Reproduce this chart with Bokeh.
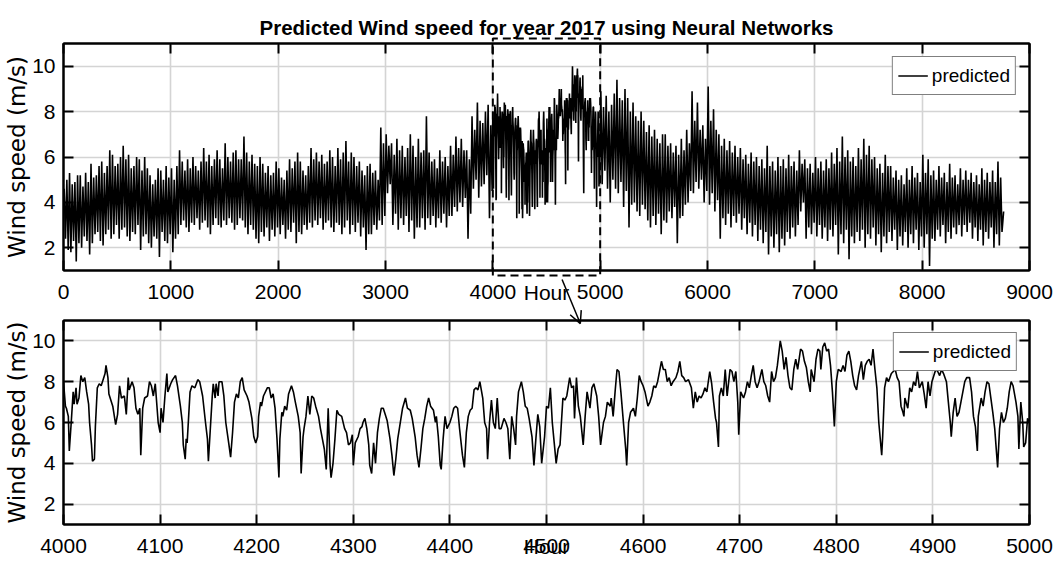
from bokeh.plotting import figure
from bokeh.layouts import column
from bokeh.models import (Range1d, LinearAxis, FixedTicker, Legend, LegendItem,
                          Arrow, OpenHead)
from bokeh.core.properties import value
from bokeh.embed import file_html
from bokeh.resources import INLINE

# ---------------------------------------------------------------- data
TITLE = "Predicted Wind speed for year 2017 using Neural Networks"
X_LABEL = "Hour"
Y_LABEL = "Wind speed (m/s)"
SERIES_NAME = "predicted"

year_ticks = [0, 1000, 2000, 3000, 4000, 5000, 6000, 7000, 8000, 9000]
zoom_ticks = [4000, 4100, 4200, 4300, 4400, 4500, 4600, 4700, 4800, 4900, 5000]
speed_ticks = [2, 4, 6, 8, 10]

# hourly prediction summarised in 25-hour blocks (block maximum, block minimum)
BLOCK = 25
first_hour, first_speed = 0, 4.2
# hours 0 - 4000
early_hi = [4.6, 5.0, 5.3, 4.8, 4.9, 5.2, 5.2, 4.7, 5.3, 4.9,
            5.7, 5.1, 5.2, 5.6, 5.8, 5.3, 5.6, 6.3, 6.1, 5.6,
            5.7, 6.0, 6.5, 5.9, 6.1, 5.5, 5.6, 6.0, 5.9, 5.4,
            6.0, 5.5, 5.2, 4.8, 5.0, 5.5, 5.4, 5.0, 5.6, 5.1,
            5.5, 5.0, 5.6, 6.3, 5.8, 5.4, 5.9, 5.5, 6.0, 5.6,
            5.4, 5.8, 6.4, 5.8, 6.1, 5.6, 5.9, 6.3, 5.9, 5.5,
            6.6, 6.0, 5.8, 6.2, 6.3, 5.9, 5.9, 6.9, 6.2, 5.8,
            6.1, 5.7, 5.6, 6.0, 5.7, 5.3, 5.6, 5.2, 5.3, 5.8,
            5.5, 5.1, 5.0, 5.4, 5.9, 5.5, 5.8, 6.2, 5.8, 5.4,
            5.2, 5.6, 6.4, 5.9, 6.2, 5.8, 6.1, 5.7, 5.8, 6.3,
            6.0, 5.6, 6.4, 5.9, 6.2, 6.7, 5.8, 6.2, 6.0, 5.6,
            5.8, 5.4, 5.2, 5.6, 5.7, 5.3, 5.4, 5.0, 7.3, 6.6,
            7.0, 6.5, 6.6, 6.1, 6.8, 6.3, 6.5, 6.0, 6.4, 7.0,
            6.5, 6.0, 6.8, 6.2, 6.3, 7.8, 6.2, 5.8, 5.9, 5.5,
            6.3, 5.8, 6.0, 5.6, 6.5, 6.1, 6.9, 6.4, 6.8, 6.3,
            6.3, 5.9, 7.8, 7.2, 8.4, 7.6, 7.5, 8.0, 8.3, 7.4]
early_lo = [2.4, 1.9, 1.8, 2.3, 1.4, 2.2, 2.0, 2.5, 2.3, 1.7,
            2.2, 2.6, 2.7, 2.3, 2.1, 2.6, 2.8, 2.4, 2.6, 3.0,
            2.4, 2.8, 2.9, 2.5, 2.3, 2.7, 2.6, 3.0, 1.9, 2.5,
            2.6, 2.2, 2.0, 2.5, 2.4, 1.6, 2.7, 2.3, 2.2, 2.6,
            1.8, 2.4, 2.6, 3.0, 3.2, 2.9, 2.7, 3.1, 3.0, 3.3,
            2.8, 3.1, 3.2, 2.9, 2.6, 3.0, 3.3, 3.0, 2.9, 3.2,
            3.0, 3.3, 3.1, 2.8, 3.0, 3.3, 3.2, 2.9, 2.6, 3.0,
            2.8, 2.4, 2.2, 2.7, 2.5, 2.9, 2.3, 2.8, 2.5, 2.9,
            2.6, 3.0, 2.4, 2.8, 2.7, 3.1, 2.2, 2.7, 2.6, 3.0,
            2.8, 3.1, 2.9, 3.2, 3.0, 3.3, 2.8, 3.1, 3.2, 2.9,
            2.7, 3.1, 3.0, 2.6, 2.9, 3.2, 2.6, 3.0, 2.7, 3.1,
            2.5, 2.9, 1.9, 2.6, 2.6, 3.0, 2.8, 3.2, 3.0, 3.4,
            4.4, 4.8, 3.0, 3.5, 2.8, 3.3, 3.0, 3.4, 2.7, 3.2,
            2.4, 2.9, 2.9, 3.3, 2.8, 3.3, 3.0, 3.4, 2.9, 3.3,
            3.1, 3.5, 2.9, 3.4, 3.4, 3.8, 3.6, 4.0, 3.8, 4.2,
            2.4, 3.5, 4.6, 5.0, 4.2, 4.7, 4.8, 5.2, 3.3, 4.5]
# hours 5000 - 8750
late_hi = [8.9, 8.2, 8.7, 8.0, 8.3, 8.8, 9.4, 8.6, 8.5, 9.0,
           8.6, 8.0, 8.4, 7.8, 7.6, 8.0, 7.6, 7.1, 7.4, 6.9,
           7.2, 6.8, 6.6, 7.0, 7.0, 6.5, 6.6, 6.2, 6.5, 6.1,
           6.8, 6.3, 7.2, 6.6, 8.9, 7.6, 8.4, 7.2, 7.4, 6.8,
           9.1, 7.6, 8.1, 7.2, 7.0, 6.5, 6.8, 6.3, 6.7, 6.2,
           6.5, 6.0, 6.4, 5.9, 6.1, 5.7, 6.2, 5.8, 6.0, 5.6,
           5.9, 5.5, 6.5, 5.6, 5.8, 5.4, 6.0, 5.6, 5.9, 5.5,
           6.1, 5.6, 5.8, 5.4, 6.3, 5.7, 5.9, 5.5, 5.7, 5.3,
           6.0, 5.5, 5.8, 5.4, 5.9, 5.5, 6.2, 5.7, 6.4, 5.8,
           6.9, 6.0, 6.3, 5.8, 6.0, 5.6, 6.4, 5.9, 6.8, 6.1,
           6.5, 5.9, 6.0, 5.5, 5.7, 5.3, 6.1, 5.6, 5.6, 5.1,
           5.4, 5.0, 5.2, 4.8, 5.5, 5.0, 5.6, 5.1, 5.3, 4.9,
           6.1, 5.3, 5.9, 5.2, 5.4, 5.0, 5.6, 5.1, 5.3, 4.9,
           5.7, 5.1, 5.2, 4.8, 5.5, 5.0, 5.4, 5.0, 5.3, 4.9,
           5.2, 4.8, 5.5, 5.0, 5.3, 4.9, 5.4, 4.9, 5.8, 5.1]
late_lo = [4.8, 5.4, 4.6, 4.0, 5.0, 4.6, 4.4, 4.9, 3.8, 4.5,
           2.9, 3.9, 4.0, 3.6, 3.4, 3.9, 3.7, 3.2, 2.9, 3.4,
           3.0, 3.5, 2.6, 3.2, 3.1, 3.6, 3.3, 3.8, 2.2, 3.3,
           3.4, 3.9, 4.0, 4.5, 4.4, 4.9, 4.6, 5.0, 4.0, 4.5,
           3.9, 4.4, 3.6, 4.1, 2.4, 3.3, 3.0, 3.5, 2.9, 3.4,
           3.1, 3.5, 2.8, 3.3, 2.6, 3.1, 2.5, 3.0, 2.3, 2.8,
           2.2, 2.7, 1.7, 2.5, 2.0, 2.6, 1.8, 2.4, 2.1, 2.7,
           2.4, 2.9, 2.5, 3.0, 3.6, 4.0, 2.4, 2.9, 2.6, 3.1,
           2.5, 3.0, 2.4, 2.9, 2.3, 2.8, 2.5, 3.0, 1.7, 2.6,
           2.2, 2.8, 1.5, 2.5, 2.2, 2.7, 2.3, 2.8, 2.0, 2.6,
           2.4, 2.9, 2.1, 2.6, 1.8, 2.5, 2.2, 2.7, 2.3, 2.8,
           1.9, 2.5, 2.1, 2.7, 2.0, 2.6, 2.2, 2.8, 1.9, 2.5,
           2.0, 2.6, 1.2, 2.4, 2.3, 2.8, 2.5, 3.0, 2.2, 2.7,
           2.4, 2.9, 2.6, 3.0, 2.5, 3.0, 2.7, 3.1, 2.4, 2.9,
           2.3, 2.8, 2.1, 2.7, 2.4, 2.9, 2.0, 2.6, 2.1, 2.7]
last_hour, last_speed = 8759, 3.6

# hour-by-hour prediction, hours 4000 - 5000
zoom_hours = [
    4000, 4002, 4003, 4005, 4006, 4008, 4010, 4011, 4013, 4014,
    4016, 4018, 4020, 4022, 4024, 4026, 4027, 4029, 4030, 4032,
    4033, 4035, 4037, 4039, 4041, 4043, 4044, 4046, 4047, 4051,
    4054, 4056, 4058, 4060, 4063, 4065, 4067, 4068, 4071, 4073,
    4075, 4077, 4079, 4080, 4082, 4084, 4087, 4089, 4091, 4093,
    4095, 4098, 4100, 4101, 4103, 4105, 4107, 4108, 4111, 4113,
    4116, 4118, 4121, 4123, 4124, 4126, 4127, 4128, 4131, 4133,
    4136, 4139, 4141, 4144, 4147, 4149, 4150, 4152, 4154, 4155,
    4157, 4158, 4160, 4161, 4164, 4166, 4168, 4171, 4173, 4175,
    4177, 4179, 4181, 4183, 4185, 4187, 4190, 4192, 4195, 4197,
    4199, 4201, 4202, 4204, 4205, 4207, 4211, 4213, 4215, 4217,
    4219, 4221, 4223, 4224, 4226, 4227, 4229, 4231, 4233, 4236,
    4238, 4240, 4243, 4245, 4246, 4248, 4249, 4251, 4253, 4255,
    4257, 4259, 4261, 4264, 4266, 4268, 4270, 4272, 4273, 4274,
    4276, 4277, 4279, 4281, 4283, 4285, 4288, 4291, 4293, 4295,
    4297, 4299, 4300, 4302, 4305, 4307, 4309, 4310, 4312, 4314,
    4316, 4317, 4319, 4321, 4323, 4325, 4327, 4329, 4331, 4333,
    4335, 4338, 4340, 4342, 4344, 4346, 4348, 4351, 4354, 4356,
    4359, 4361, 4364, 4366, 4368, 4370, 4372, 4374, 4376, 4378,
    4380, 4383, 4385, 4386, 4388, 4390, 4391, 4393, 4395, 4397,
    4400, 4402, 4404, 4406, 4408, 4410, 4413, 4415, 4417, 4419,
    4421, 4423, 4425, 4427, 4429, 4431, 4434, 4436, 4438, 4439,
    4441, 4443, 4445, 4447, 4449, 4451, 4453, 4456, 4458, 4460,
    4462, 4464, 4466, 4468, 4469, 4471, 4474, 4476, 4478, 4480,
    4482, 4485, 4487, 4489, 4491, 4493, 4495, 4498, 4500, 4502,
    4504, 4506, 4508, 4510, 4512, 4514, 4517, 4519, 4521, 4524,
    4526, 4528, 4529, 4531, 4533, 4535, 4538, 4540, 4542, 4545,
    4547, 4549, 4552, 4554, 4556, 4559, 4561, 4563, 4566, 4567,
    4569, 4571, 4573, 4575, 4577, 4580, 4582, 4583, 4585, 4587,
    4590, 4592, 4594, 4596, 4598, 4600, 4602, 4605, 4607, 4609,
    4611, 4613, 4615, 4617, 4619, 4621, 4623, 4625, 4627, 4629,
    4631, 4634, 4636, 4638, 4640, 4642, 4644, 4647, 4650, 4652,
    4654, 4656, 4658, 4660, 4662, 4664, 4666, 4669, 4671, 4673,
    4675, 4676, 4678, 4679, 4681, 4683, 4685, 4687, 4690, 4692,
    4694, 4696, 4698, 4699, 4701, 4704, 4706, 4708, 4710, 4712,
    4714, 4716, 4718, 4720, 4723, 4725, 4727, 4729, 4731, 4733,
    4735, 4737, 4739, 4742, 4744, 4746, 4748, 4750, 4752, 4754,
    4756, 4758, 4760, 4763, 4765, 4767, 4769, 4771, 4773, 4774,
    4777, 4779, 4781, 4783, 4784, 4786, 4788, 4790, 4792, 4794,
    4796, 4798, 4800, 4802, 4805, 4807, 4809, 4811, 4813, 4815,
    4817, 4819, 4821, 4823, 4826, 4828, 4830, 4832, 4834, 4836,
    4838, 4840, 4842, 4844, 4847, 4848, 4850, 4852, 4854, 4857,
    4859, 4861, 4863, 4865, 4867, 4869, 4870, 4871, 4874, 4876,
    4878, 4880, 4882, 4884, 4886, 4889, 4891, 4893, 4895, 4897,
    4899, 4901, 4903, 4905, 4907, 4909, 4911, 4914, 4916, 4918,
    4919, 4921, 4923, 4925, 4927, 4929, 4931, 4933, 4935, 4938,
    4940, 4942, 4944, 4946, 4947, 4950, 4952, 4954, 4956, 4958,
    4960, 4962, 4964, 4967, 4969, 4971, 4973, 4975, 4977, 4979,
    4981, 4983, 4986, 4988, 4989, 4991, 4993, 4994, 4996, 4998,
    5000]
zoom_speed = [
    8.0, 6.8, 6.7, 6.3, 4.6, 6.0, 7.5, 6.9, 7.7, 6.9,
    7.2, 8.3, 8.0, 8.2, 7.5, 6.9, 6.0, 4.9, 4.1, 4.2,
    5.8, 7.7, 7.9, 7.8, 8.1, 8.4, 8.8, 8.2, 7.4, 6.8,
    5.9, 6.4, 7.8, 7.2, 7.3, 6.4, 8.2, 7.6, 8.0, 7.7,
    6.7, 6.4, 6.7, 4.4, 6.7, 7.2, 7.3, 8.0, 7.8, 7.3,
    7.9, 6.0, 5.5, 6.7, 6.0, 7.3, 8.4, 7.5, 7.9, 8.1,
    8.3, 7.8, 6.8, 6.0, 4.9, 4.2, 5.2, 5.0, 7.5, 7.8,
    7.7, 8.1, 8.0, 7.3, 6.0, 5.2, 4.1, 5.7, 7.3, 7.9,
    7.2, 7.9, 7.3, 8.0, 8.0, 7.3, 6.0, 5.0, 4.3, 5.5,
    7.0, 7.4, 7.2, 8.0, 8.2, 7.6, 7.3, 7.0, 6.2, 5.3,
    5.0, 5.3, 6.3, 7.0, 6.8, 7.3, 7.7, 7.7, 7.2, 7.4,
    6.7, 5.2, 3.3, 5.2, 6.5, 6.3, 6.8, 6.6, 7.4, 7.8,
    7.5, 7.0, 6.3, 5.5, 3.5, 5.3, 5.7, 6.3, 7.3, 6.4,
    7.3, 7.2, 6.8, 6.3, 5.7, 5.2, 4.7, 3.7, 5.2, 6.7,
    3.9, 3.3, 4.0, 5.2, 6.6, 6.4, 6.3, 5.7, 5.5, 4.9,
    5.0, 5.4, 3.9, 5.0, 5.3, 5.7, 5.8, 6.0, 6.2, 5.7,
    4.9, 3.9, 3.5, 5.0, 4.0, 5.5, 6.2, 6.7, 6.7, 6.4,
    6.1, 5.2, 4.4, 3.4, 4.2, 5.2, 5.8, 6.7, 7.2, 6.7,
    6.6, 6.2, 5.3, 4.4, 3.8, 4.7, 5.7, 6.2, 6.8, 7.2,
    6.8, 6.6, 6.0, 6.3, 5.3, 3.9, 3.7, 5.2, 6.3, 5.7,
    6.0, 6.3, 6.7, 6.8, 6.7, 5.7, 4.4, 3.8, 5.5, 6.3,
    6.6, 6.7, 7.6, 7.7, 7.6, 8.0, 7.2, 6.0, 5.7, 4.2,
    6.0, 7.1, 6.0, 5.7, 7.2, 5.7, 5.7, 6.2, 6.0, 5.7,
    4.2, 6.3, 5.7, 4.9, 6.3, 7.5, 8.0, 7.5, 6.8, 6.7,
    6.2, 5.3, 3.9, 5.2, 6.4, 5.8, 4.0, 5.3, 6.8, 6.7,
    7.7, 6.0, 5.0, 4.0, 4.7, 4.9, 7.2, 7.1, 7.3, 8.2,
    7.7, 7.8, 6.2, 8.2, 6.8, 6.3, 4.9, 6.3, 7.5, 6.7,
    7.7, 7.9, 7.3, 6.3, 4.9, 6.0, 6.3, 7.0, 6.8, 7.2,
    6.3, 7.5, 8.6, 8.5, 7.5, 5.8, 4.7, 3.9, 6.0, 6.5,
    6.7, 6.3, 7.2, 8.3, 8.0, 7.8, 7.5, 6.8, 7.0, 7.3,
    7.8, 7.7, 8.0, 8.5, 9.0, 8.6, 8.6, 8.0, 8.2, 7.8,
    8.0, 8.2, 8.5, 9.0, 8.3, 8.2, 8.0, 8.1, 7.7, 6.7,
    7.5, 7.0, 7.3, 7.2, 7.4, 7.7, 7.5, 8.5, 7.9, 7.0,
    6.2, 6.0, 4.8, 7.3, 7.7, 7.3, 8.6, 7.3, 8.6, 8.5,
    8.0, 8.5, 7.0, 5.4, 7.5, 7.2, 7.5, 8.0, 7.7, 8.3,
    8.8, 8.0, 7.7, 8.0, 8.6, 8.0, 7.8, 7.3, 7.0, 8.5,
    8.0, 8.2, 8.8, 10.0, 9.5, 8.6, 9.2, 8.3, 7.7, 7.6,
    8.6, 9.1, 8.6, 9.6, 9.5, 9.0, 8.7, 8.0, 7.5, 8.6,
    8.0, 9.1, 9.6, 9.5, 8.6, 9.7, 9.9, 9.5, 9.6, 8.8,
    7.5, 5.8, 8.0, 8.6, 8.5, 8.8, 8.5, 9.3, 9.5, 9.0,
    8.3, 7.8, 7.6, 8.3, 9.0, 8.1, 8.8, 9.0, 9.1, 8.8,
    9.6, 8.6, 7.7, 6.0, 4.4, 5.3, 7.7, 8.2, 8.0, 8.4,
    8.5, 8.6, 8.2, 8.0, 6.8, 6.5, 6.3, 7.2, 6.7, 7.7,
    7.5, 8.0, 7.8, 8.5, 7.7, 8.0, 7.4, 6.7, 8.0, 7.3,
    8.0, 8.3, 8.6, 8.5, 8.3, 8.6, 8.4, 8.0, 7.0, 6.0,
    5.3, 6.5, 7.2, 6.3, 6.5, 7.0, 7.5, 8.0, 8.2, 8.2,
    7.5, 6.3, 5.8, 4.6, 6.3, 7.2, 6.8, 7.5, 8.0, 7.9,
    7.2, 6.5, 5.7, 3.8, 5.7, 6.5, 6.0, 6.2, 6.7, 7.5,
    8.0, 7.8, 7.0, 6.3, 4.7, 7.0, 6.0, 4.8, 5.0, 6.2,
    6.0]

# ---------------------------------------------------------------- year series
year_x, year_y = [first_hour], [first_speed]
for k, (hi, lo) in enumerate(zip(early_hi, early_lo)):
    start = year_ticks[0] + k * BLOCK
    year_x += [start + BLOCK * 0.25, start + BLOCK * 0.75]
    year_y += [hi, lo]
year_x += zoom_hours
year_y += zoom_speed
for k, (hi, lo) in enumerate(zip(late_hi, late_lo)):
    start = zoom_ticks[-1] + k * BLOCK
    year_x += [start + BLOCK * 0.25, start + BLOCK * 0.75]
    year_y += [hi, lo]
year_x.append(last_hour)
year_y.append(last_speed)

# ---------------------------------------------------------------- layout
SANS = "Liberation Sans"
WIDE = "DejaVu Sans"
WIDTH = 1058
H_TOP, H_BOT = 310, 253
LEFT, RIGHT = 63, 29
TOP_BORDERS = dict(min_border_left=LEFT, min_border_right=RIGHT, min_border_top=43, min_border_bottom=40)
BOT_BORDERS = dict(min_border_left=LEFT, min_border_right=RIGHT, min_border_top=10, min_border_bottom=39)
Y_MIN, Y_MAX = 1, 11
GRID = "#d4d4d4"
TICK_FONT = "21px"
# the text glyph lays its alphabetic baseline this many pixels below the anchor
TEXT_DROP = 8


def dress(p, xticks):
    main_x, main_y = p.below[0], p.left[0]
    p.outline_line_color = "black"
    p.outline_line_width = 2
    p.background_fill_color = "white"
    p.border_fill_color = "white"
    for g, t in ((p.xgrid[0], xticks), (p.ygrid[0], speed_ticks)):
        g.ticker = FixedTicker(ticks=t)
        g.grid_line_color = GRID
        g.grid_line_width = 1.6
    extra_top = LinearAxis()
    extra_right = LinearAxis()
    p.add_layout(extra_top, "above")
    p.add_layout(extra_right, "right")
    for ax, t in ((main_x, xticks), (main_y, speed_ticks),
                  (extra_top, xticks), (extra_right, speed_ticks)):
        ax.ticker = FixedTicker(ticks=t)
        ax.axis_line_color = "black"
        ax.axis_line_width = 2
        ax.major_tick_in = 10
        ax.major_tick_out = 0
        ax.major_tick_line_width = 2
        ax.major_tick_line_color = "black"
        ax.minor_tick_line_color = None
        ax.major_label_text_font = SANS
        ax.major_label_text_font_size = TICK_FONT
        ax.major_label_text_color = "black"
    for ax in (extra_top, extra_right):
        ax.major_label_text_font_size = "1px"
        ax.major_label_text_alpha = 0
        ax.major_label_standoff = 0
    main_x.major_label_standoff = 14
    main_y.major_label_standoff = 8
    main_y.axis_label = Y_LABEL
    main_y.axis_label_text_font = WIDE
    main_y.axis_label_text_font_size = "23px"
    main_y.axis_label_text_font_style = "normal"
    main_y.axis_label_text_color = "black"
    main_y.axis_label_standoff = -1


def add_legend(p, renderer, margin):
    leg = Legend(items=[LegendItem(label=SERIES_NAME, renderers=[renderer])],
                 location="top_right", margin=margin, padding=5, spacing=0,
                 glyph_width=30, glyph_height=27, label_standoff=4,
                 label_text_font=SANS, label_text_font_size="19px",
                 label_text_color="black", border_line_color="black",
                 border_line_width=1.5, background_fill_color="white",
                 background_fill_alpha=1)
    p.add_layout(leg)


top = figure(width=WIDTH, height=H_TOP, x_range=Range1d(year_ticks[0], year_ticks[-1]),
             y_range=Range1d(Y_MIN, Y_MAX), output_backend="svg", toolbar_location=None,
             **TOP_BORDERS)
dress(top, year_ticks)
r_year = top.line(year_x, year_y, line_color="black", line_width=1.6)
add_legend(top, r_year, 13)

bot = figure(width=WIDTH, height=H_BOT, x_range=Range1d(zoom_ticks[0], zoom_ticks[-1]),
             y_range=Range1d(Y_MIN, Y_MAX), output_backend="svg", toolbar_location=None,
             **BOT_BORDERS)
dress(bot, zoom_ticks)
r_zoom = bot.line(zoom_hours, zoom_speed, line_color="black", line_width=1.6)
add_legend(bot, r_zoom, 12)

# page-pixel geometry of the two frames, used by the overlay drawn on top
top_frame = dict(l=LEFT, r=WIDTH - RIGHT, t=43, b=H_TOP - 40,
                 x0=year_ticks[0], x1=year_ticks[-1])
bot_frame = dict(l=LEFT, r=WIDTH - RIGHT, t=H_TOP + 10, b=H_TOP + H_BOT - 39,
                 x0=zoom_ticks[0], x1=zoom_ticks[-1])


def to_page(f, x, y):
    px = f["l"] + (x - f["x0"]) / (f["x1"] - f["x0"]) * (f["r"] - f["l"])
    py = f["b"] - (y - Y_MIN) / (Y_MAX - Y_MIN) * (f["b"] - f["t"])
    return px, py


# transparent overlay spanning the page: title, axis names and the zoom marker
# all cross frame borders, so they are drawn here in page pixels.  Its frame
# shares the horizontal borders of the panels, so x maps straight to page x.
over = figure(width=WIDTH, height=H_TOP + H_BOT, x_range=Range1d(LEFT, WIDTH - RIGHT),
              y_range=Range1d(H_TOP + H_BOT, 0), x_axis_location=None,
              y_axis_location=None, min_border_left=LEFT, min_border_right=RIGHT,
              min_border_top=0, min_border_bottom=0, output_backend="svg",
              toolbar_location=None, outline_line_color=None,
              background_fill_alpha=0, border_fill_alpha=0,
              styles={"position": "absolute", "top": "0px", "left": "0px"})
over.grid.visible = False

mid = (top_frame["l"] + top_frame["r"]) / 2
over.text(x=[mid], y=[top_frame["t"] - 8 - TEXT_DROP], text=[TITLE], text_align="center",
          text_baseline="alphabetic", text_font=value(SANS), text_font_size=value("20.5px"),
          text_font_style="bold", text_color="black")
# axis names share the baseline of the tick labels
over.text(x=[mid, mid], y=[top_frame["b"] + 29.5 - TEXT_DROP, bot_frame["b"] + 29.5 - TEXT_DROP],
          text=[X_LABEL, X_LABEL], text_align="center", text_baseline="alphabetic",
          text_font=value(SANS), text_font_size=value(TICK_FONT), text_color="black")

# dashed box around the zoomed hours, overhanging the frame slightly
bx0, _ = to_page(top_frame, zoom_ticks[0], Y_MIN)
bx1, _ = to_page(top_frame, zoom_ticks[-1], Y_MIN)
by0, by1 = top_frame["t"] - 5, top_frame["b"] + 5
over.line(x=[bx0, bx0, bx1, bx1, bx0], y=[by1, by0, by0, by1, by1],
          line_color="black", line_width=2, line_dash="8 5")

# arrow from the box down to the zoom panel
tail = to_page(top_frame, 4645, 0.6)
tip = to_page(bot_frame, 4535, 10.85)
over.add_layout(Arrow(end=OpenHead(size=12, line_width=1.5, line_color="black"),
                      x_start=tail[0], y_start=tail[1], x_end=tip[0], y_end=tip[1],
                      line_color="black", line_width=1.5))

page = column(top, bot, over, spacing=0)
open("out.html", "w").write(file_html(page, INLINE))
